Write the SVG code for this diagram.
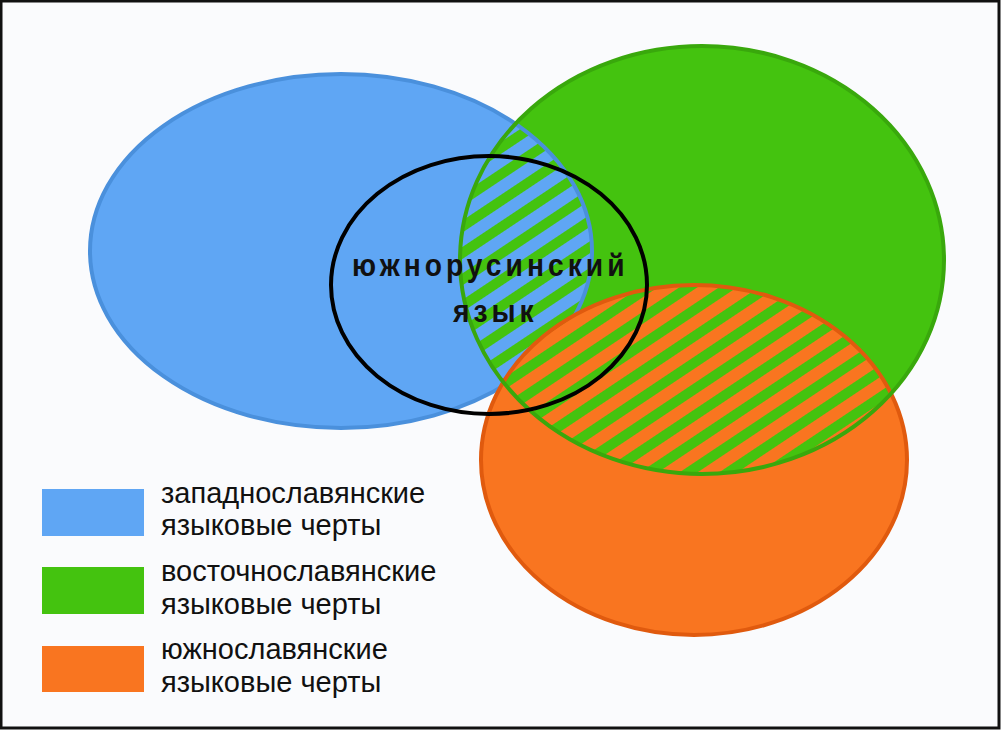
<svg xmlns="http://www.w3.org/2000/svg" width="1001" height="731" viewBox="0 0 1001 731">
<style>
.lg{font-family:"Liberation Sans",Arial,sans-serif;font-size:29px;fill:#111}
.ct{font-family:"Liberation Sans",Arial,sans-serif;font-size:32px;font-weight:bold;fill:#111;letter-spacing:4.6px}
.bf{fill:#5fa6f4}.gf{fill:#44c30f}.of{fill:#f97520}
.bs{fill:none;stroke:#4a90dc;stroke-width:4}
.gs{fill:none;stroke:#39a80c;stroke-width:4}
.os{fill:none;stroke:#e05a0e;stroke-width:4}
</style>
<defs>
<ellipse id="eb" cx="341" cy="251" rx="251" ry="177"/>
<ellipse id="eg" cx="702" cy="260" rx="242" ry="214"/>
<ellipse id="eo" cx="694" cy="460" rx="213" ry="175"/>
<clipPath id="cb"><use href="#eb"/></clipPath>
<clipPath id="cg"><use href="#eg"/></clipPath>
<pattern id="pbg" width="22" height="22" patternUnits="userSpaceOnUse" patternTransform="rotate(-33.7)">
<rect width="22" height="22" fill="#5fa6f4"/><rect width="22" height="10" fill="#44c30f"/>
</pattern>
<pattern id="pgo" width="22" height="22" patternUnits="userSpaceOnUse" patternTransform="rotate(-33.7)">
<rect width="22" height="22" fill="#f97520"/><rect width="22" height="10" fill="#44c30f"/>
</pattern>
</defs>
<rect x="1" y="1" width="998" height="727" fill="#fafbfd" stroke="#111" stroke-width="3"/>
<g id="west"><use href="#eb" class="bf"/></g>
<g id="east"><use href="#eg" class="gf"/></g>
<g id="west-east"><use href="#eg" fill="url(#pbg)" clip-path="url(#cb)"/><use href="#eb" class="bs"/></g>
<g id="south"><use href="#eo" class="of"/></g>
<g id="east-south"><use href="#eo" fill="url(#pgo)" clip-path="url(#cg)"/><use href="#eo" class="os"/><use href="#eg" class="gs"/></g>
<g id="rusyn">
<ellipse cx="489" cy="285" rx="158" ry="129" fill="none" stroke="#000" stroke-width="4"/>
<text class="ct" transform="translate(352,276) scale(0.88,1)">южнорусинский</text>
<text class="ct" transform="translate(453,322) scale(0.88,1)">язык</text>
</g>
<g id="legend">
<rect x="42" y="489" width="102" height="47" fill="#5fa6f4"/>
<rect x="42" y="567" width="102" height="47" fill="#44c30f"/>
<rect x="42" y="646" width="102" height="46" fill="#f97520"/>
<text class="lg" x="161" y="503">западнославянские</text>
<text class="lg" x="161" y="535">языковые черты</text>
<text class="lg" x="161" y="581">восточнославянские</text>
<text class="lg" x="161" y="614">языковые черты</text>
<text class="lg" x="161" y="659">южнославянские</text>
<text class="lg" x="161" y="692">языковые черты</text>
</g>
</svg>
